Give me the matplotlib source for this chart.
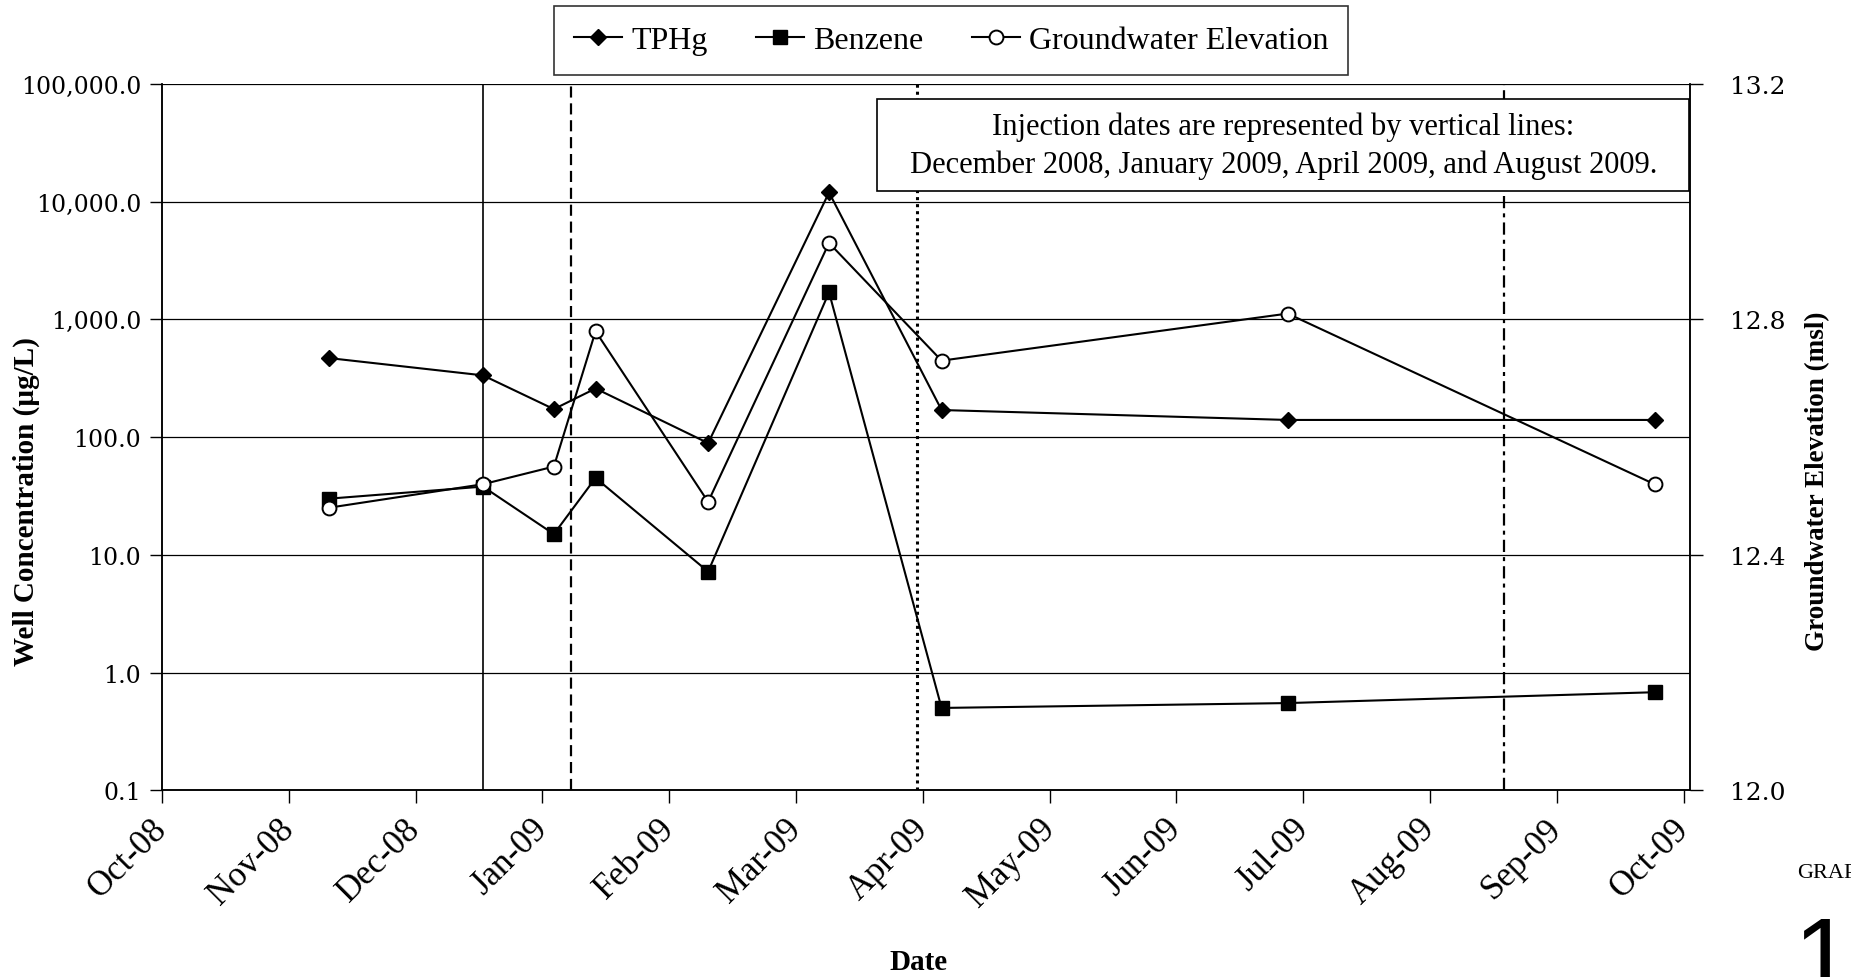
import matplotlib
matplotlib.use("Agg")
import matplotlib.pyplot as plt
import matplotlib.dates as mdates
from matplotlib.ticker import FixedLocator, FuncFormatter
from matplotlib.patches import Rectangle
from datetime import datetime

# sampling events
sample_dates = ['2008-11-10', '2008-12-17', '2009-01-03', '2009-01-13', '2009-02-09',
                '2009-03-10', '2009-04-06', '2009-06-28', '2009-09-24']
tphg = [470, 335, 173, 259, 89, 12000, 170, 140, 140]
benzene = [30, 38, 15, 45, 7.2, 1700, 0.50, 0.55, 0.68]
gw_elev = [12.48, 12.52, 12.55, 12.78, 12.49, 12.93, 12.73, 12.81, 12.52]

# injection events
injection_dates = ['2008-12-17', '2009-01-07', '2009-03-31', '2009-08-19']

month_labels = ['Oct-08', 'Nov-08', 'Dec-08', 'Jan-09', 'Feb-09', 'Mar-09', 'Apr-09',
                'May-09', 'Jun-09', 'Jul-09', 'Aug-09', 'Sep-09', 'Oct-09']
conc_ticks = [0.1, 1, 10, 100, 1000, 10000, 100000]
elev_ticks = [12.0, 12.4, 12.8, 13.2]

serif = ['Liberation Serif', 'DejaVu Serif']
num_font = ['DejaVu Serif']

x = mdates.date2num([datetime.strptime(d, '%Y-%m-%d') for d in sample_dates])
xinj = mdates.date2num([datetime.strptime(d, '%Y-%m-%d') for d in injection_dates])
x0 = mdates.date2num(datetime(2008, 10, 1))
month_ticks = [x0 + k * 365 / 12 for k in range(13)]

fig = plt.figure(figsize=(18.51, 9.78), dpi=100)
ax = fig.add_axes([0.0875, 0.191, 0.8255, 0.722])
ax2 = ax.twinx()

ax.set_yscale('log')
ax.set_ylim(0.1, 100000)
ax.set_xlim(x0, x0 + 366.5)
ax2.set_ylim(12.0, 13.2)

# grid at each decade
for v in conc_ticks:
    ax.axhline(v, color='black', lw=0.9, zorder=1)

# injection lines
ax.axvline(xinj[0], color='black', lw=1.2, zorder=2)
ax.axvline(xinj[1], color='black', lw=1.6, dashes=(5, 2.6), zorder=2)
ax.axvline(xinj[2], color='black', lw=2.2, dashes=(1.0, 1.3), zorder=2)
ax.axvline(xinj[3], color='black', lw=1.6, dashes=(5.5, 2.3, 1.8, 2.3), zorder=2)

l1, = ax.plot(x, tphg, color='black', lw=1.5, marker='D', markersize=8,
              markerfacecolor='black', label='TPHg', zorder=4)
l2, = ax.plot(x, benzene, color='black', lw=1.5, marker='s', markersize=10,
              markerfacecolor='black', label='Benzene', zorder=4)
l3, = ax2.plot(x, gw_elev, color='black', lw=1.5, marker='o', markersize=10,
               markerfacecolor='white', markeredgewidth=1.4,
               label='Groundwater Elevation', zorder=4)

ax.yaxis.set_major_locator(FixedLocator(conc_ticks))
ax.yaxis.set_minor_locator(FixedLocator([]))
ax.yaxis.set_major_formatter(FuncFormatter(lambda v, p: f'{v:,.1f}'))
ax2.yaxis.set_major_locator(FixedLocator(elev_ticks))
ax2.yaxis.set_major_formatter(FuncFormatter(lambda v, p: f'{v:.1f}'))

ax.set_xticks(month_ticks)
ax.set_xticklabels(month_labels, rotation=45, ha='right', va='center',
                   rotation_mode='anchor', family=serif, fontsize=25)

for lab in ax.get_yticklabels():
    lab.set_family(num_font)
    lab.set_fontsize(17)
for lab in ax2.get_yticklabels():
    lab.set_family(num_font)
    lab.set_fontsize(18)

ax.tick_params(axis='both', direction='out', length=9, width=1, color='black', pad=6)
ax.tick_params(axis='x', pad=15)
ax2.tick_params(axis='y', direction='out', length=9, width=1, pad=20)

for a in (ax, ax2):
    a.spines['top'].set_visible(False)
    for s in ('left', 'right', 'bottom'):
        a.spines[s].set_linewidth(1.1)

# note box
ax.add_patch(Rectangle((0.468, 0.848), 0.5315, 0.131, transform=ax.transAxes,
                       facecolor='white', edgecolor='black', lw=1.2, zorder=5))
ax.text(0.7338, 0.9135,
        'Injection dates are represented by vertical lines:\n'
        'December 2008, January 2009, April 2009, and August 2009.',
        transform=ax.transAxes, ha='center', va='center', family=serif,
        fontsize=22, linespacing=1.4, zorder=6)

leg = fig.legend(handles=[l1, l2, l3], loc='upper center', bbox_to_anchor=(0.514, 0.993),
                 borderaxespad=0, ncol=3, frameon=True, fancybox=False, edgecolor='black',
                 prop={'family': serif, 'size': 23}, handlelength=1.5,
                 handletextpad=0.3, columnspacing=1.5, borderpad=0.62)
leg.get_frame().set_linewidth(1.2)

fig.text(0.014, 0.487, 'Well Concentration (\u00b5g/L)', rotation=90, ha='center',
         va='center', family=serif, fontsize=21, fontweight='bold')
fig.text(0.982, 0.508, 'Groundwater Elevation (msl)', rotation=90, ha='center',
         va='center', family=serif, fontsize=19.5, fontweight='bold')
fig.text(0.496, 0.016, 'Date', ha='center', va='center', family=serif,
         fontsize=21, fontweight='bold')
fig.text(0.971, 0.107, 'GRAPH', ha='left', va='center', family=serif, fontsize=16)
fig.text(0.969, 0.064, '1', ha='left', va='top', family=['Liberation Sans'],
         fontsize=76)

fig.savefig('out.png', dpi=100)
